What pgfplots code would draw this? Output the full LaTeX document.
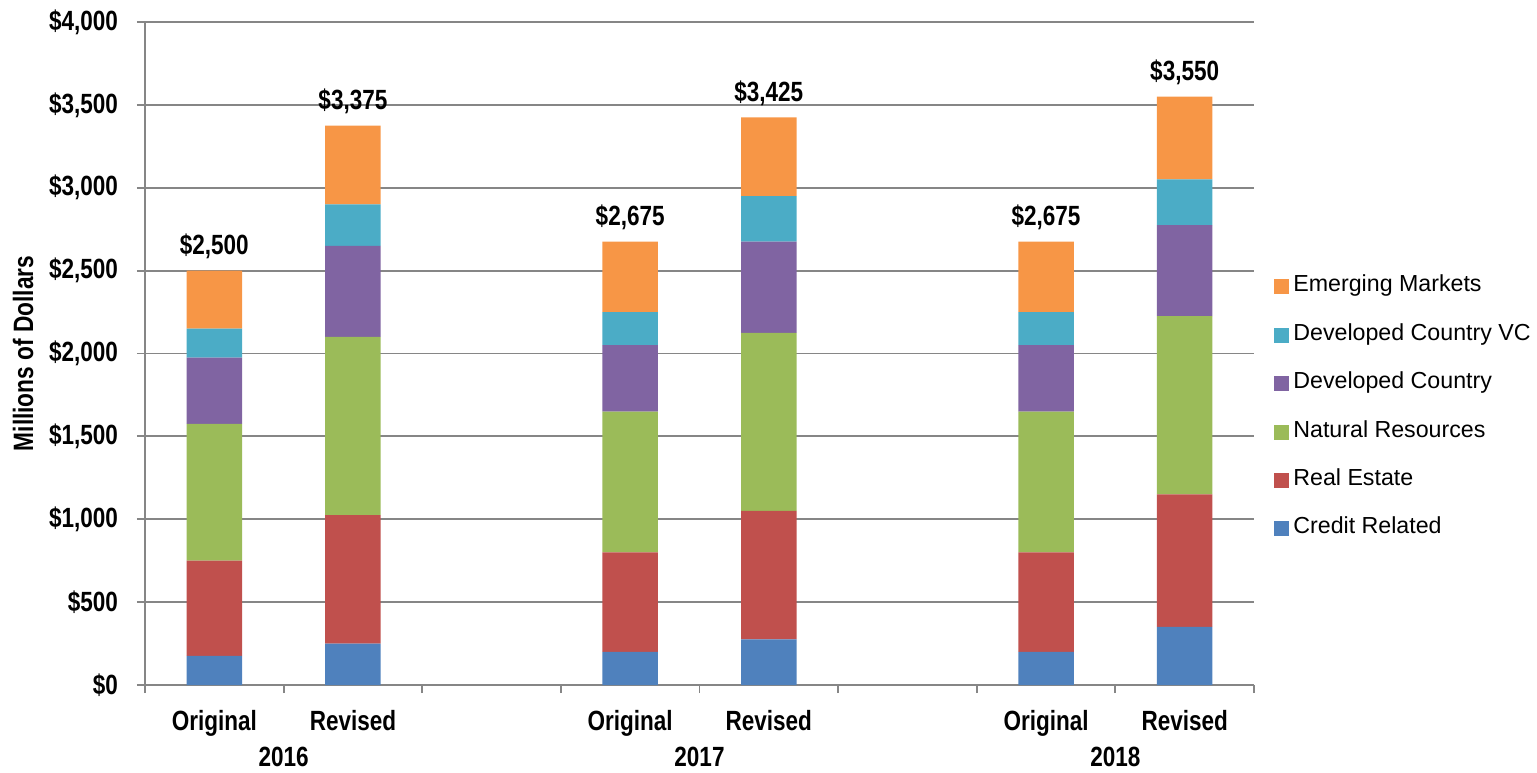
\documentclass[border=0pt]{standalone}
\usepackage{fontspec}
\setmainfont{Liberation Sans}
\newfontfamily\nb{Liberation Sans}[FakeStretch=0.81]
\usepackage{pgfplots}
\pgfplotsset{compat=1.18}
\usepackage{pgfplotstable}

\definecolor{cCR}{RGB}{79,129,189}
\definecolor{cRE}{RGB}{192,80,77}
\definecolor{cNR}{RGB}{155,187,89}
\definecolor{cDC}{RGB}{128,100,162}
\definecolor{cVC}{RGB}{75,172,198}
\definecolor{cEM}{RGB}{247,150,70}
\definecolor{gridc}{RGB}{134,134,134}

\pgfplotstableread{
x cr re nr dc vc em total
0 175 575 825 400 175 350 2500
1 250 775 1075 550 250 475 3375
3 200 600 850 400 200 425 2675
4 275 775 1075 550 275 475 3425
6 200 600 850 400 200 425 2675
7 350 800 1075 550 275 500 3550
}\data

\newcommand{\bl}{\nb\bfseries\fontsize{13.9}{16}\selectfont}

\begin{document}
\begin{tikzpicture}
\useasboundingbox (-72.5pt,-43.5pt) rectangle (696pt,342.5pt);
\begin{axis}[
  at={(0,0)}, anchor=south west,
  scale only axis, width=554.5pt, height=331.5pt,
  ybar stacked, bar width=0.4,
  xmin=-0.5, xmax=7.5, ymin=0, ymax=4000,
  axis x line*=bottom, axis y line*=left,
  axis line style={gridc, line width=1pt},
  ytick={0,500,...,4000},
  ymajorgrids, grid style={gridc, line width=0.9pt},
  tick style={gridc, line width=0.9pt},
  tick align=outside, major tick length=4pt,
  /pgf/number format/.cd, 1000 sep={,}, assume math mode=true, /pgfplots/.cd,
  yticklabel={\bl\$\pgfmathprintnumber{\tick}},
  yticklabel style={anchor=east, xshift=-6pt},
  xtick={-0.5,0.5,...,7.5},
  xticklabels={,2016,,,2017,,,2018,},
  xticklabel style={font=\bl, anchor=base, yshift=-36.5pt},
  extra x ticks={0,1,3,4,6,7},
  extra x tick labels={Original,Revised,Original,Revised,Original,Revised},
  extra x tick style={major tick length=0pt, xticklabel style={yshift=14pt}},
  ylabel={\nb\bfseries\fontsize{14}{16}\selectfont Millions of Dollars},
  ylabel style={at={(axis description cs:-0.11,0.5)}, anchor=center},
  legend style={at={(rel axis cs:1,0.418)}, anchor=west, xshift=10pt, draw=none, fill=none,
    font=\fontsize{11.6}{13}\selectfont, row sep=13.2pt, inner sep=0pt,
    nodes={text height=8pt, text depth=3pt, inner ysep=0pt}},
  legend cell align=left,
  legend image code/.code={\fill[#1] (0pt,-3.75pt) rectangle (7.5pt,3.75pt);},
  reverse legend,
]
\addplot[fill=cCR, draw=none] table[x=x,y=cr]{\data};
\addlegendentry{Credit Related}
\addplot[fill=cRE, draw=none] table[x=x,y=re]{\data};
\addlegendentry{Real Estate}
\addplot[fill=cNR, draw=none] table[x=x,y=nr]{\data};
\addlegendentry{Natural Resources}
\addplot[fill=cDC, draw=none] table[x=x,y=dc]{\data};
\addlegendentry{Developed Country}
\addplot[fill=cVC, draw=none] table[x=x,y=vc]{\data};
\addlegendentry{Developed Country VC}
\addplot[fill=cEM, draw=none] table[x=x,y=em]{\data};
\addlegendentry{Emerging Markets}
\end{axis}
\begin{axis}[
  at={(0,0)}, anchor=south west,
  scale only axis, width=554.5pt, height=331.5pt,
  xmin=-0.5, xmax=7.5, ymin=0, ymax=4000,
  hide axis, clip=false,
  /pgf/number format/.cd, 1000 sep={,}, assume math mode=true, /pgfplots/.cd,
]
\addplot[draw=none, mark=none, point meta=\thisrow{total},
  nodes near coords={\bl\$\pgfmathprintnumber{\pgfplotspointmeta}},
  every node near coord/.style={anchor=base, yshift=8pt}]
  table[x=x,y=total]{\data};
\end{axis}
\end{tikzpicture}
\end{document}
